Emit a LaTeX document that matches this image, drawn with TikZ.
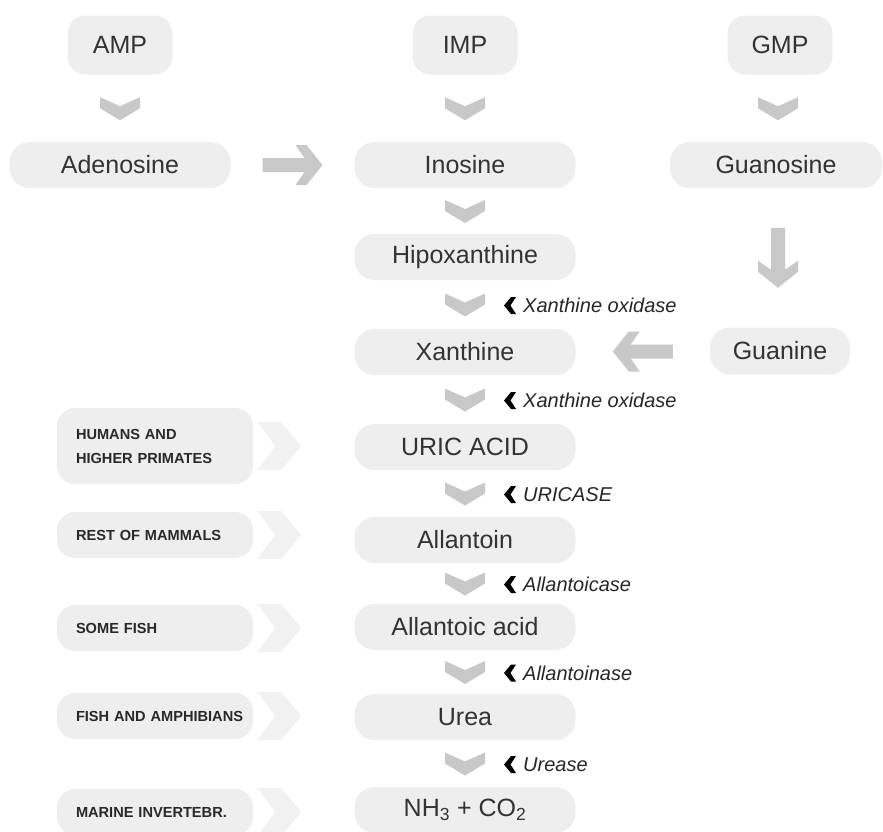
\documentclass[tikz,border=0pt]{standalone}
\usepackage{fontspec}
\setmainfont{Liberation Sans}
\usetikzlibrary{positioning,calc}
\definecolor{boxgrey}{HTML}{EEEEEE}
\definecolor{chevgrey}{HTML}{C8C8C8}
\definecolor{taggrey}{HTML}{F2F2F2}
\definecolor{ink}{HTML}{333333}

\begin{document}
\begin{tikzpicture}[
  x=1pt, y=-1pt,
  mol/.style={fill=boxgrey, rounded corners=20pt, minimum width=221pt, minimum height=46pt, inner sep=0pt, text=ink, font=\fontsize{25}{29}\selectfont},
  nuc/.style={mol, minimum width=105pt, minimum height=59pt, rounded corners=18pt},
  org/.style={fill=boxgrey, rounded corners=18pt, text width=180pt, inner xsep=8pt, inner ysep=3pt, minimum height=46pt, align=left, text=ink!80!black, font=\fontsize{14.6}{24}\selectfont\bfseries},
  enz/.style={anchor=west, inner sep=0pt, text=black!85, font=\fontsize{20}{24}\selectfont\itshape},
  chev/.pic={\fill[chevgrey] (-20,-11)--(0,-2)--(20,-11)--(20,0)--(0,12)--(-20,0)--cycle;},
  fatarrow/.pic={\fill[chevgrey] (-30,-7)--(12,-7)--(3,-20)--(14,-20)--(30,0)--(14,20)--(3,20)--(12,7)--(-30,7)--cycle;},
  tag/.pic={\fill[taggrey] (0,-24)--(24,-24)--(44,0)--(24,24)--(0,24)--(18,0)--cycle;},
  brk/.pic={\fill[black] (0,-8.5)--(-5,-8.5)--(-12,0)--(-5,8.5)--(0,8.5)--(-5.5,0)--cycle;}
]
\useasboundingbox (0,0) rectangle (883,831);

% nucleotides and nucleosides
\node[nuc] (amp) at (120,45) {AMP};
\node[nuc] (imp) at (465,45) {IMP};
\node[nuc] (gmp) at (780,45) {GMP};
\node[mol] (ado) at (120,165) {Adenosine};
\node[mol] (ino) at (465,165) {Inosine};
\node[mol, minimum width=212pt] (guo) at (776,165) {Guanosine};

% main column
\node[mol] (hyp) at (465,257) {Hipoxanthine};
\node[mol] (xan) at (465,352) {Xanthine};
\node[mol, minimum width=140pt, minimum height=47pt] (gua) at (780,351) {Guanine};
\node[mol] (uric) at (465,447) {URIC ACID};
\node[mol] (alln) at (465,540) {Allantoin};
\node[mol] (allac) at (465,627) {Allantoic acid};
\node[mol] (urea) at (465,717) {Urea};
\node[mol] (nh) at (465,810) {NH\textsubscript{3} + CO\textsubscript{2}};

% organisms
\node[org, minimum height=76pt] (hum) at (155,446) {\hspace*{11pt}HUMANS AND\\\hspace*{11pt}HIGHER PRIMATES};
\node[org] (rest) at (155,535) {\hspace*{11pt}REST OF MAMMALS};
\node[org] (sfish) at (155,628) {\hspace*{11pt}SOME FISH};
\node[org] (famph) at (155,716) {\hspace*{11pt}FISH AND AMPHIBIANS};
\node[org] (marine) at (155,812) {\hspace*{11pt}MARINE INVERTEBR.};

\foreach \o in {hum,rest,sfish,famph,marine}
  \pic at ($(\o.east)+(4,0)$) {tag};

% small chevrons
\foreach \a/\b in {amp/ado, imp/ino, gmp/guo, ino/hyp, hyp/xan, xan/uric, uric/alln, alln/allac, allac/urea, urea/nh}
  \pic at ($(\a.south)!0.5!(\b.north)$) {chev};

% big arrows
\pic at ($(ado.east)!0.5!(ino.west)$) {fatarrow};
\pic[rotate=-90] at ($(guo.south)!0.5!(gua.north)$) {fatarrow};
\pic[rotate=180] at ($(gua.west)!0.5!(xan.east)$) {fatarrow};

% enzymes
\node[enz] (xo1) at ($(hyp.south)!0.5!(xan.north)+(58,1)$) {Xanthine oxidase};
\node[enz] (xo2) at ($(xan.south)!0.5!(uric.north)+(58,1)$) {Xanthine oxidase};
\node[enz] (uox) at ($(uric.south)!0.5!(alln.north)+(58,1)$) {URICASE};
\node[enz] (alc) at ($(alln.south)!0.5!(allac.north)+(58,1)$) {Allantoicase};
\node[enz] (aln) at ($(allac.south)!0.5!(urea.north)+(58,1)$) {Allantoinase};
\node[enz] (ure) at ($(urea.south)!0.5!(nh.north)+(58,1)$) {Urease};
\foreach \e in {xo1,xo2,uox,alc,aln,ure}
  \pic at ($(\e.west)+(-7,0)$) {brk};
\end{tikzpicture}
\end{document}
